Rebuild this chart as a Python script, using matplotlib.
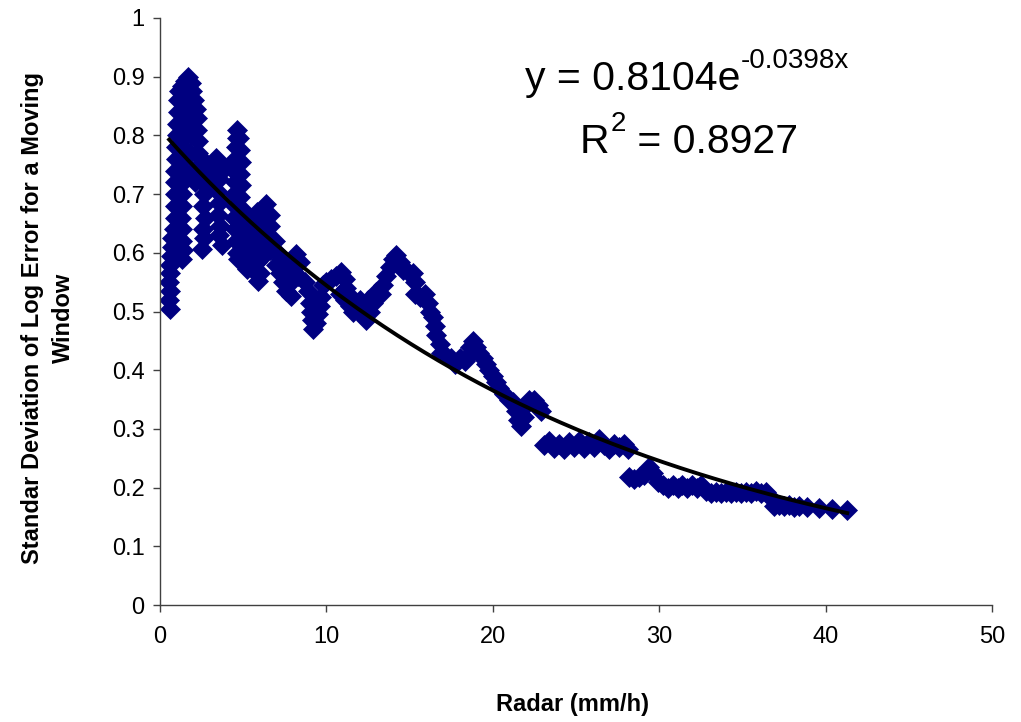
import numpy as np
import matplotlib
matplotlib.use("Agg")
import matplotlib.pyplot as plt

plt.rcParams['font.family'] = ['Liberation Sans', 'DejaVu Sans']

# -----------------------------
# Data (radar mm/h, std of log error)
# -----------------------------
# first tall cluster, x < 2.5
seg_a_x = [0.62, 0.55, 0.60, 0.55, 0.62, 0.58, 0.65, 0.70, 0.75, 1.00, 1.30, 1.40]
seg_a_y = [0.505, 0.520, 0.535, 0.550, 0.565, 0.580, 0.595, 0.610, 0.625, 0.600, 0.590, 0.605]
seg_b_x = [0.85, 0.90, 0.88, 0.92, 0.90, 0.93, 0.95, 0.98, 1.00, 1.05, 1.08, 1.10, 1.15]
seg_b_y = [0.640, 0.660, 0.680, 0.700, 0.720, 0.740, 0.760, 0.780, 0.800, 0.820, 0.840, 0.860, 0.875]
seg_c_x = [1.30, 1.35, 1.25, 1.35, 1.30, 1.40, 1.35, 1.45, 1.40, 1.50, 1.45, 1.55, 1.50]
seg_c_y = [0.620, 0.640, 0.660, 0.680, 0.700, 0.720, 0.740, 0.760, 0.780, 0.800, 0.820, 0.840, 0.860]
seg_d_x = [1.30, 1.50, 1.70, 1.85, 1.95]
seg_d_y = [0.885, 0.893, 0.900, 0.890, 0.875]
seg_e_x = [2.05, 2.15, 2.20, 2.25, 2.30, 2.30, 2.35, 2.25, 2.10, 1.90, 1.80, 1.85, 1.80, 1.75]
seg_e_y = [0.860, 0.845, 0.830, 0.810, 0.790, 0.770, 0.750, 0.730, 0.720, 0.740, 0.770, 0.800, 0.830, 0.860]
# columns between 2.5 and 7
seg_f_x = [2.55, 2.60, 2.55, 2.65, 2.60, 2.70, 2.60, 2.65, 2.50]
seg_f_y = [0.760, 0.740, 0.720, 0.700, 0.680, 0.660, 0.640, 0.625, 0.607]
seg_g_x = [2.95, 3.05, 3.20, 3.35, 3.50, 3.55, 3.45, 3.55, 3.50, 3.60, 3.55, 3.70]
seg_g_y = [0.720, 0.740, 0.755, 0.762, 0.745, 0.725, 0.705, 0.685, 0.665, 0.645, 0.630, 0.614]
seg_h_x = [3.90, 4.20, 4.45, 4.50, 4.45, 4.50, 4.45, 4.50, 4.55, 4.60, 4.65, 4.75, 4.80, 4.85,
           4.80, 4.85, 4.80, 4.90, 4.85, 4.95, 4.90, 5.00, 5.10, 5.20, 4.50, 4.55, 4.60, 4.70]
seg_h_y = [0.745, 0.750, 0.660, 0.680, 0.700, 0.720, 0.740, 0.760, 0.780, 0.795, 0.810, 0.795, 0.775, 0.755,
           0.735, 0.715, 0.695, 0.675, 0.655, 0.635, 0.615, 0.600, 0.585, 0.572, 0.640, 0.620, 0.600, 0.590]
seg_i_x = [5.30, 5.50, 5.80, 6.10, 6.40, 6.60, 5.50, 5.80, 6.20, 6.60, 5.40, 5.70, 6.00, 6.50,
           5.50, 5.80, 6.20, 6.60, 5.60, 6.00, 5.90]
seg_i_y = [0.650, 0.660, 0.670, 0.675, 0.683, 0.665, 0.630, 0.640, 0.650, 0.645, 0.610, 0.610, 0.620, 0.625,
           0.590, 0.585, 0.595, 0.605, 0.570, 0.565, 0.552]
# 7 to 16
seg_j_x = [6.90, 7.10, 7.00, 7.30, 7.20, 7.50, 7.40, 7.70, 7.60, 7.90, 7.90, 8.00, 8.20, 8.40, 8.30]
seg_j_y = [0.620, 0.600, 0.580, 0.590, 0.565, 0.575, 0.550, 0.560, 0.535, 0.550, 0.526, 0.575, 0.598, 0.585, 0.560]
seg_k_x = [8.70, 8.90, 9.00, 9.10, 9.15, 9.20, 9.40, 9.50, 9.60, 9.70, 9.80]
seg_k_y = [0.550, 0.535, 0.515, 0.500, 0.485, 0.470, 0.480, 0.495, 0.510, 0.525, 0.545]
seg_l_x = [10.0, 10.3, 10.6, 10.9, 11.1, 11.2]
seg_l_y = [0.550, 0.555, 0.560, 0.567, 0.555, 0.540]
seg_m_x = [10.8, 11.1, 11.4, 11.6, 11.9, 12.1, 12.4, 12.6, 12.8, 11.5, 12.0, 12.5, 13.0, 13.3]
seg_m_y = [0.530, 0.520, 0.510, 0.500, 0.505, 0.495, 0.485, 0.500, 0.515, 0.525, 0.520, 0.520, 0.533, 0.530]
seg_n_x = [13.4, 13.6, 13.8, 14.0, 14.2, 14.4, 14.6, 14.9, 15.2, 15.3, 15.3, 15.6, 15.9, 16.1]
seg_n_y = [0.545, 0.560, 0.575, 0.590, 0.596, 0.585, 0.570, 0.568, 0.565, 0.550, 0.530, 0.525, 0.530, 0.515]
# 16 to 23
seg_o_x = [16.2, 16.4, 16.5, 16.6, 16.8, 16.9, 17.2, 17.5, 17.7, 18.0, 18.3, 18.5, 18.6, 18.8, 19.0,
           19.2, 19.4, 19.6, 19.8, 20.0, 20.2, 20.4, 20.7, 21.0, 21.2, 21.4, 21.5, 21.7, 21.9, 22.0,
           22.2, 22.5, 22.7, 22.9]
seg_o_y = [0.500, 0.490, 0.475, 0.460, 0.445, 0.430, 0.425, 0.420, 0.410, 0.420, 0.415, 0.425, 0.440, 0.450, 0.440,
           0.430, 0.420, 0.410, 0.400, 0.390, 0.380, 0.370, 0.360, 0.350, 0.345, 0.330, 0.315, 0.305, 0.320, 0.340,
           0.350, 0.350, 0.340, 0.330]
# plateaus 23 to 41
seg_p_x = [23.1, 23.4, 23.7, 24.0, 24.3, 24.6, 24.9, 25.2, 25.5, 25.8, 26.1, 26.4, 26.7, 27.0, 27.3, 27.6, 27.9, 28.1]
seg_p_y = [0.272, 0.280, 0.268, 0.275, 0.265, 0.278, 0.270, 0.280, 0.268, 0.277, 0.270, 0.283, 0.272, 0.265, 0.275, 0.270, 0.275, 0.265]
seg_q_x = [28.2, 28.5, 28.8, 29.1, 29.4, 29.6, 29.9, 30.2, 30.5, 30.8, 31.1, 31.4, 31.7, 32.0, 32.3, 32.5]
seg_q_y = [0.218, 0.215, 0.218, 0.222, 0.235, 0.225, 0.210, 0.205, 0.200, 0.205, 0.200, 0.205, 0.200, 0.205, 0.200, 0.205]
seg_r_x = [32.8, 33.1, 33.4, 33.7, 34.0, 34.3, 34.6, 34.9, 35.2, 35.5, 35.8, 36.1, 36.4, 36.6]
seg_r_y = [0.195, 0.190, 0.193, 0.190, 0.193, 0.190, 0.193, 0.190, 0.193, 0.190, 0.195, 0.190, 0.192, 0.185]
seg_s_x = [36.9, 37.2, 37.5, 37.8, 38.1, 38.4, 38.9, 39.6, 40.4, 41.3]
seg_s_y = [0.168, 0.170, 0.168, 0.170, 0.167, 0.168, 0.167, 0.165, 0.164, 0.162]

# exponential trend line as printed on the chart
fit_a = 0.8104
fit_b = -0.0398
fit_r2 = 0.8927

x_ticks = [0, 10, 20, 30, 40, 50]
y_ticks = [0, 0.1, 0.2, 0.3, 0.4, 0.5, 0.6, 0.7, 0.8, 0.9, 1]
y_tick_labels = ["0", "0.1", "0.2", "0.3", "0.4", "0.5", "0.6", "0.7", "0.8", "0.9", "1"]

xs = [seg_a_x, seg_b_x, seg_c_x, seg_d_x, seg_e_x, seg_f_x, seg_g_x, seg_h_x, seg_i_x, seg_j_x,
      seg_k_x, seg_l_x, seg_m_x, seg_n_x, seg_o_x, seg_p_x, seg_q_x, seg_r_x, seg_s_x]
ys = [seg_a_y, seg_b_y, seg_c_y, seg_d_y, seg_e_y, seg_f_y, seg_g_y, seg_h_y, seg_i_y, seg_j_y,
      seg_k_y, seg_l_y, seg_m_y, seg_n_y, seg_o_y, seg_p_y, seg_q_y, seg_r_y, seg_s_y]
for sx, sy in zip(xs, ys):
    assert len(sx) == len(sy), (sx, sy)
radar = np.array(sum(xs, []))
std_err = np.array(sum(ys, []))

# -----------------------------
# Figure
# -----------------------------
W, H = 1021, 722
fig = plt.figure(figsize=(W / 100, H / 100), dpi=100)
ax = fig.add_axes([160 / W, 117 / H, 832 / W, 587 / H])

navy = '#000080'
ax.plot(radar, std_err, ls='none', marker='D', ms=10.5,
        mfc=navy, mec=navy, mew=0.5, zorder=2)

xt = np.linspace(radar.min(), radar.max(), 200)
ax.plot(xt, fit_a * np.exp(fit_b * xt), color='black', lw=2.8, zorder=3)

ax.set_xlim(0, 50)
ax.set_ylim(0, 1)
ax.set_xticks(x_ticks)
ax.set_yticks(y_ticks)
ax.set_yticklabels(y_tick_labels)

for side in ['top', 'right']:
    ax.spines[side].set_visible(False)
for side in ['left', 'bottom']:
    ax.spines[side].set_color('#404040')
    ax.spines[side].set_linewidth(1.0)
ax.tick_params(direction='out', length=5, width=1, color='#404040', labelsize=17)
ax.tick_params(axis='x', pad=10)
ax.tick_params(axis='y', pad=6)

# axis titles
fig.text(572 / W, 1 - 705 / H, 'Radar (mm/h)', ha='center', va='center',
         fontsize=17, fontweight='bold')
fig.text(48 / W, 1 - 318 / H, 'Standar Deviation of Log Error for a Moving\nWindow',
         rotation=90, ha='center', va='center', multialignment='center',
         fontsize=17, fontweight='bold', linespacing=1.4)

# trend line label, pieces chained left to right
renderer = fig.canvas.get_renderer()


def put(text, x_px, base_px, size):
    t = fig.text(x_px / W, 1 - base_px / H, text, fontsize=size, ha='left', va='baseline')
    return t.get_window_extent(renderer).x1


end = put('y = %.4fe' % fit_a, 525, 90, 29.5)
put('%.4fx' % fit_b, end, 68, 20)
end = put('R', 580, 153, 29.5)
end = put('2', end + 1, 131, 20)
put(' = %.4f' % fit_r2, end, 153, 29.5)

fig.savefig('out.png', dpi=100)
